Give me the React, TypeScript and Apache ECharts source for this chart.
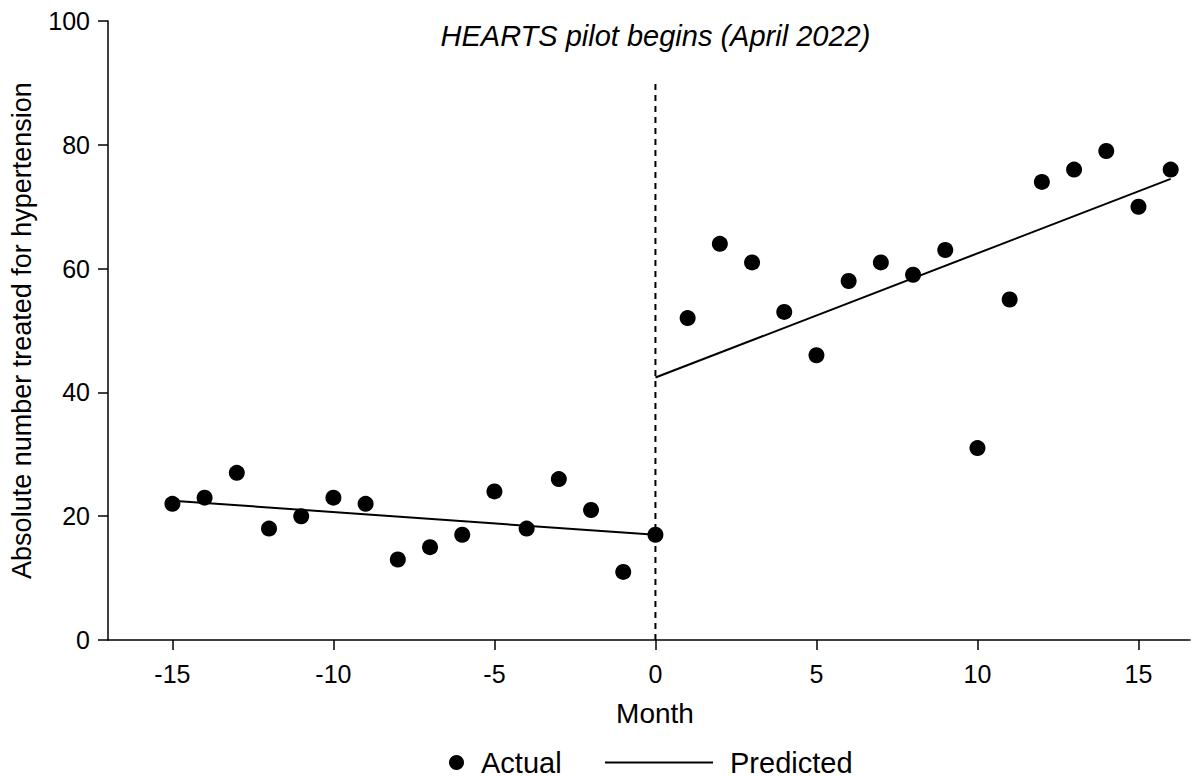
import React, { useEffect, useRef } from "react";
import * as echarts from "echarts";

const months = [-15, -14, -13, -12, -11, -10, -9, -8, -7, -6, -5, -4, -3, -2, -1, 0, 1, 2, 3, 4, 5, 6, 7, 8, 9, 10, 11, 12, 13, 14, 15, 16];
const actual = [22, 23, 27, 18, 20, 23, 22, 13, 15, 17, 24, 18, 26, 21, 11, 17, 52, 64, 61, 53, 46, 58, 61, 59, 63, 31, 55, 74, 76, 79, 70, 76];
const predictedPre: [number, number][] = [[-15, 22.5], [0, 17.0]];
const predictedPost: [number, number][] = [[0, 42.4], [16, 74.5]];
const interventionLine: [number, number][] = [[0, 0], [0, 90]];
const xTicks = [-15, -10, -5, 0, 5, 10, 15];
const annotation = "HEARTS pilot begins (April 2022)";
const annotationAt: [number, number] = [0, 97.6];

const FONT = "'Liberation Sans', Arial, Helvetica, sans-serif";

export default function App() {
  const ref = useRef<HTMLDivElement>(null);
  useEffect(() => {
    if (!ref.current) return;
    const chart = echarts.init(ref.current, undefined, { renderer: "svg" });
    chart.setOption({
      animation: false,
      backgroundColor: "#ffffff",
      textStyle: { fontFamily: FONT },
      grid: { left: 108, right: 1, top: 21, bottom: 136, containLabel: false },
      xAxis: {
        type: "value",
        min: -17,
        max: 16.6,
        name: "Month",
        nameLocation: "middle",
        nameGap: 59,
        nameTextStyle: { fontSize: 28, color: "#000", fontFamily: FONT, padding: [0, 0, 0, 12] },
        axisLine: { show: true, onZero: false, lineStyle: { color: "#000", width: 1.5 } },
        axisTick: { show: true, inside: false, length: 10, customValues: xTicks, lineStyle: { color: "#000", width: 1.5 } },
        axisLabel: { fontSize: 25, color: "#000", fontFamily: FONT, margin: 21, customValues: xTicks },
        splitLine: { show: false },
      },
      yAxis: {
        type: "value",
        min: 0,
        max: 100,
        interval: 20,
        name: "Absolute number treated for hypertension",
        nameLocation: "middle",
        nameGap: 73,
        nameTextStyle: { fontSize: 27, color: "#000", fontFamily: FONT },
        axisLine: { show: true, onZero: false, lineStyle: { color: "#000", width: 1.5 } },
        axisTick: { show: true, inside: false, length: 10, lineStyle: { color: "#000", width: 1.5 } },
        axisLabel: { fontSize: 25, color: "#000", fontFamily: FONT, margin: 18 },
        splitLine: { show: false },
      },
      legend: [
        {
          data: [{ name: "Actual", icon: "circle" }],
          left: 449,
          top: 748,
          padding: 0,
          itemWidth: 15,
          itemHeight: 15,
          textStyle: { fontSize: 29, color: "#000", fontFamily: FONT, padding: [0, 0, 0, 12] },
          selectedMode: false,
        },
        {
          data: [{ name: "Predicted", icon: "rect" }],
          left: 605,
          top: 748,
          padding: 0,
          itemWidth: 108,
          itemHeight: 2,
          textStyle: { fontSize: 29, color: "#000", fontFamily: FONT, padding: [0, 0, 0, 12] },
          selectedMode: false,
        },
      ],
      series: [
        {
          name: "Intervention",
          type: "line",
          data: interventionLine,
          symbol: "none",
          lineStyle: { color: "#000", width: 2, type: [6, 5] },
          silent: true,
          z: 1,
        },
        {
          name: "Predicted",
          type: "line",
          data: predictedPre,
          symbol: "none",
          lineStyle: { color: "#000", width: 2 },
          itemStyle: { color: "#000" },
          z: 2,
        },
        {
          name: "Predicted",
          type: "line",
          data: predictedPost,
          symbol: "none",
          lineStyle: { color: "#000", width: 2 },
          itemStyle: { color: "#000" },
          z: 2,
        },
        {
          name: "Actual",
          type: "scatter",
          data: months.map((m, i) => [m, actual[i]]),
          symbol: "circle",
          symbolSize: 16,
          itemStyle: { color: "#000", opacity: 1 },
          z: 3,
        },
      ],
    });
    const p = chart.convertToPixel({ gridIndex: 0 }, annotationAt) as number[];
    chart.setOption({
      graphic: [
        {
          type: "text",
          x: p[0],
          y: p[1],
          style: {
            text: annotation,
            fontSize: 29,
            fontStyle: "italic",
            fontFamily: FONT,
            fill: "#000",
            align: "center",
            verticalAlign: "middle",
          },
        },
      ],
    });
    return () => chart.dispose();
  }, []);
  return <div ref={ref} style={{ position: "fixed", left: 0, top: 0, width: 1191, height: 776 }} />;
}
